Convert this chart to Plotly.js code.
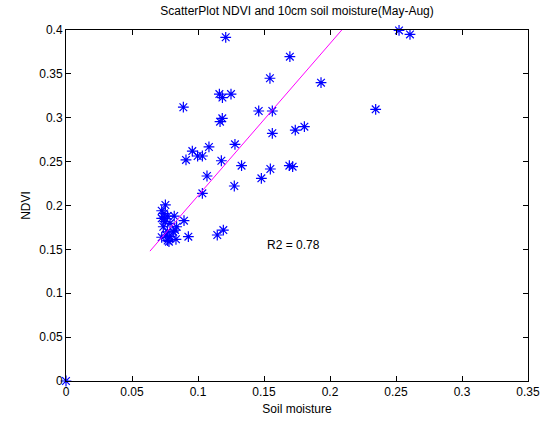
<!DOCTYPE html>
<html>
<head>
<meta charset="utf-8">
<script src="https://cdn.plot.ly/plotly-3.0.1.min.js"></script>
<style>html,body{margin:0;padding:0;background:#fff;}#chart{width:547px;height:421px;}</style>
</head>
<body>
<div id="chart"></div>
<script>
var soilMoisture = [
  0.000,
  0.0753, 0.0725, 0.0742, 0.0770, 0.0820, 0.0725, 0.0750, 0.0788, 0.0838, 0.0737,
  0.0768, 0.0826, 0.0758, 0.0788, 0.0725, 0.0770, 0.0833, 0.0745, 0.0813, 0.0780,
  0.0894, 0.0927, 0.1146, 0.1192,
  0.1033, 0.1275, 0.1068, 0.1480, 0.1548, 0.1692, 0.1717, 0.1330, 0.1177, 0.0909,
  0.1033, 0.0997, 0.0957, 0.1083, 0.1280, 0.1563, 0.1737, 0.1806, 0.1167, 0.1184,
  0.1460, 0.1563, 0.0889, 0.1162, 0.1185, 0.1250, 0.1545, 0.1696, 0.1210, 0.1932,
  0.2346, 0.2523, 0.2606
];
var ndvi = [
  0.000,
  0.2006, 0.1940, 0.1910, 0.1880, 0.1880, 0.1854, 0.1816, 0.1797, 0.1758, 0.1758,
  0.1700, 0.1720, 0.1664, 0.1645, 0.1638, 0.1600, 0.1615, 0.1855, 0.1700, 0.1588,
  0.1827, 0.1645, 0.1664, 0.1720,
  0.2139, 0.2222, 0.2336, 0.2310, 0.2416, 0.2454, 0.2442, 0.2454, 0.2510, 0.2519,
  0.2564, 0.2564, 0.2620, 0.2667, 0.2697, 0.2823, 0.2860, 0.2898, 0.2955, 0.2993,
  0.3077, 0.3077, 0.3120, 0.3270, 0.3230, 0.3270, 0.3450, 0.3696, 0.3917, 0.3400,
  0.3096, 0.3995, 0.3950
];
// Fitted regression line endpoints
var fitX = [0.0636, 0.2089];
var fitY = [0.148, 0.400];
var r2Label = "R2 = 0.78";
var xTicks = [0, 0.05, 0.1, 0.15, 0.2, 0.25, 0.3, 0.35];
var xTickText = ["0", "0.05", "0.1", "0.15", "0.2", "0.25", "0.3", "0.35"];
var yTicks = [0, 0.05, 0.1, 0.15, 0.2, 0.25, 0.3, 0.35, 0.4];
var yTickText = ["0", "0.05", "0.1", "0.15", "0.2", "0.25", "0.3", "0.35", "0.4"];

var font = "Liberation Sans, Arial, Helvetica, sans-serif";

var traces = [
  {
    x: soilMoisture, y: ndvi, type: "scatter", mode: "markers",
    marker: {symbol: "asterisk-open", size: 9, color: "rgb(0,0,255)", line: {color: "rgb(0,0,255)", width: 1.2}},
    cliponaxis: false, hoverinfo: "none"
  },
  {
    x: fitX, y: fitY, type: "scatter", mode: "lines",
    line: {color: "rgb(255,0,255)", width: 1}, hoverinfo: "none"
  }
];

var axisCommon = {
  showline: true, linecolor: "#000", linewidth: 1, mirror: "ticks",
  ticks: "inside", ticklen: 5, tickcolor: "#000", tickwidth: 1,
  showgrid: false, zeroline: false,
  tickfont: {family: font, size: 12, color: "#000"}
};

var layout = {
  width: 547, height: 421,
  margin: {l: 66, r: 19, t: 30, b: 40},
  paper_bgcolor: "#fff", plot_bgcolor: "#fff",
  showlegend: false,
  font: {family: font, size: 12, color: "#000"},
  title: {text: "ScatterPlot NDVI and 10cm soil moisture(May-Aug)", font: {family: font, size: 12, color: "#000"},
          x: 0.5431, xanchor: "center", y: 0.975, yanchor: "middle"},
  xaxis: Object.assign({}, axisCommon, {
    range: [0, 0.35], tickvals: xTicks, ticktext: xTickText,
    title: {text: "Soil moisture", font: {family: font, size: 12, color: "#000"}, standoff: 6}
  }),
  yaxis: Object.assign({}, axisCommon, {
    range: [0, 0.4], tickvals: yTicks, ticktext: yTickText,
    title: {text: "NDVI", font: {family: font, size: 12, color: "#000"}, standoff: 6}
  }),
  annotations: [{
    x: 0.151, y: 0.155, xref: "x", yref: "y", text: r2Label, showarrow: false,
    xanchor: "left", yanchor: "middle", font: {family: font, size: 12, color: "#000"}
  }]
};

Plotly.newPlot("chart", traces, layout, {displayModeBar: false, staticPlot: true});
</script>
</body>
</html>
